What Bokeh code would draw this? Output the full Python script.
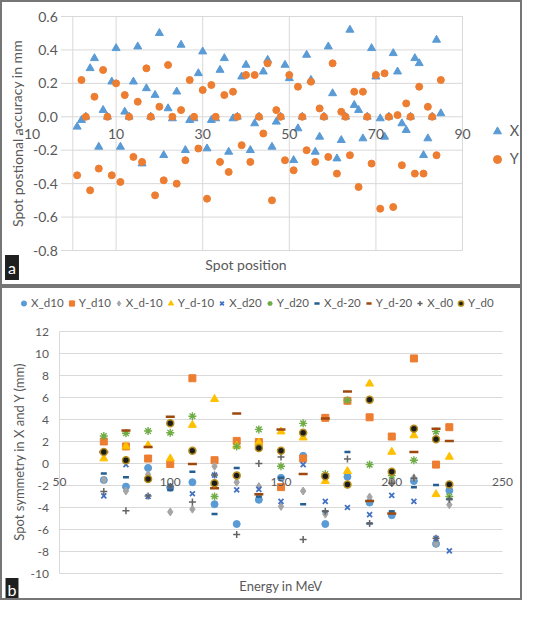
from bokeh.plotting import figure
from bokeh.models import (ColumnDataSource, LabelSet, Label, Legend, LegendItem,
                          Range1d)
from bokeh.core.properties import value
from bokeh.layouts import column
from bokeh.embed import file_html
from bokeh.resources import INLINE

# ---------------- Panel a data ----------------
spot = list(range(1, 86))
accuracy_x = [-0.06, -0.02, 0.00, 0.29, 0.35, -0.18, 0.04, 0.00, 0.21, 0.41,
              -0.18, 0.03, 0.00, 0.21, 0.42, -0.28, 0.17, 0.00, 0.13, 0.50,
              -0.23, 0.05, -0.01, 0.15, 0.43, -0.20, -0.02, -0.01, 0.26, 0.39,
              -0.19, -0.02, -0.01, 0.28, 0.35, -0.21, -0.01, 0.00, 0.24, 0.31,
              -0.20, -0.04, 0.00, 0.27, 0.34, -0.18, -0.03, 0.00, 0.31, 0.23,
              -0.26, -0.07, 0.00, 0.37, 0.22, -0.21, -0.12, 0.00, 0.42, 0.14,
              -0.25, -0.14, 0.00, 0.52, 0.07, 0.04, -0.13, 0.00, 0.41, 0.24,
              -0.01, -0.12, 0.00, 0.38, 0.27, -0.04, -0.08, 0.00, 0.35, 0.32,
              -0.23, -0.13, 0.00, 0.46, 0.02]
accuracy_y = [-0.35, 0.22, 0.00, -0.44, 0.12, -0.31, 0.28, 0.00, -0.35, 0.20,
              -0.39, 0.13, 0.00, -0.24, 0.09, -0.27, 0.29, 0.00, -0.47, 0.06,
              -0.38, 0.31, 0.00, -0.40, 0.04, -0.26, 0.22, 0.00, -0.19, 0.16,
              -0.49, 0.19, 0.00, -0.27, 0.13, -0.33, 0.15, 0.00, -0.17, 0.25,
              -0.27, 0.25, 0.00, -0.10, 0.32, -0.50, 0.04, 0.00, -0.26, 0.25,
              -0.32, 0.18, 0.00, -0.20, 0.21, -0.27, 0.05, 0.00, -0.24, 0.32,
              -0.34, 0.03, 0.00, -0.23, 0.15, -0.42, 0.15, 0.00, -0.28, 0.25,
              -0.55, 0.26, 0.00, -0.54, 0.01, -0.29, 0.08, 0.00, -0.34, 0.18,
              -0.34, 0.06, 0.00, -0.23, 0.22]
a_x_ticks = [-10, 10, 30, 50, 70, 90]
a_x_grid = [0, 10, 30, 50, 70, 90]
a_y_ticks = [-0.8, -0.6, -0.4, -0.2, 0.0, 0.2, 0.4, 0.6]

# ---------------- Panel b data ----------------
energy = [70, 80, 90, 100, 110, 120, 130, 140, 150, 160, 170, 180, 190, 200, 210, 220, 226]
x_d10 = [-1.5, -2.1, -0.4, -2.2, -1.7, -3.7, -5.5, -3.3, -1.3, 0.7, -5.5, -1.2, -3.55, -4.7, -1.6, -7.3, -2.45]
y_d10 = [2.0, 1.55, 0.45, -0.05, 7.75, 0.3, 2.05, 1.95, -2.15, 0.45, 4.15, 5.7, 4.2, 2.45, 9.55, -0.1, 3.3]
x_dm10 = [-1.5, -2.5, -1.0, -4.4, -4.15, -0.25, -1.7, -2.1, -3.9, -2.5, -4.6, -1.9, -3.05, -1.75, -1.3, -7.3, -3.75]
y_dm10 = [0.45, 1.55, 1.65, 0.45, 3.5, 5.85, 1.6, 1.9, 2.9, 2.35, -1.6, -0.7, 7.25, 1.05, 2.55, -2.8, 0.6]
x_d20 = [-2.95, -0.1, -3.0, -2.05, -2.75, -1.05, -2.4, -2.35, -3.45, -0.1, -3.45, -4.0, -4.65, -2.9, -3.45, -6.8, -7.95]
y_d20 = [2.5, 2.75, 2.95, 2.8, 4.3, -3.0, 1.55, 3.1, -0.25, 3.65, -0.95, 5.75, -0.1, -1.1, 0.3, 2.9, -3.0]
x_dm20 = [-0.9, -1.25, -1.4, -2.4, -0.75, -4.6, -0.4, -3.0, -1.3, -3.7, -4.35, 1.05, -5.45, -4.35, -2.15, -1.95, -3.25]
y_dm20 = [1.05, 3.0, 1.5, 4.25, -0.05, -2.25, 4.55, -2.8, 3.1, -0.95, 4.1, 6.55, -3.4, -4.55, 1.05, 3.15, 2.05]
x_d0 = [-2.55, -4.3, -2.95, -2.1, -3.5, -1.05, -6.45, 0.0, 0.6, -6.9, -4.35, 0.4, -5.45, -1.8, -1.35, -6.8, -3.25]
y_d0 = [1.05, 0.3, -1.4, 3.65, 1.15, -1.8, -1.1, 1.4, 1.15, 2.8, -1.15, -1.9, 5.8, -0.75, 3.15, 2.2, -1.9]
b_x_ticks = [50, 100, 150, 200, 250]
b_y_ticks = [-10, -8, -6, -4, -2, 0, 2, 4, 6, 8, 10, 12]

FONT = "Lato"
TXT = "#595959"
GRIDC = "#D9D9D9"
BORDER = {"border": "2px solid #767676"}

# =============== Panel a ===============
A_W, A_H = 522, 286
AX0, AX1, AY0, AY1 = 27.0, 460.0, 14.0, 248.0      # pixel box of the data area
a_xmin, a_xmax, a_ymin, a_ymax = -10, 90, -0.8, 0.6
a_sx = (AX1 - AX0) / (a_xmax - a_xmin)
a_sy = (AY1 - AY0) / (a_ymax - a_ymin)


def ax(px):
    return a_xmin + (px - AX0) / a_sx


def ay(py):
    return a_ymax - (py - AY0) / a_sy


pa = figure(width=A_W, height=A_H,
            x_range=Range1d(ax(0), ax(A_W)), y_range=Range1d(ay(A_H), ay(0)),
            x_axis_location=None, y_axis_location=None,
            output_backend="svg", toolbar_location=None,
            min_border=0, min_border_left=0, min_border_right=0,
            min_border_top=0, min_border_bottom=0)
pa.outline_line_color = None
pa.grid.visible = False
pa.styles = BORDER

grid_x0 = ax(58.5)
pa.segment(x0=[grid_x0] * len(a_y_ticks), x1=[a_xmax] * len(a_y_ticks), y0=a_y_ticks, y1=a_y_ticks,
           line_color=GRIDC, line_width=1)
pa.segment(x0=a_x_grid, x1=a_x_grid, y0=[a_ymin] * len(a_x_grid), y1=[a_ymax] * len(a_x_grid),
           line_color=GRIDC, line_width=1)

rx = pa.scatter(spot, accuracy_x, marker="triangle", size=8, fill_color="#5B9BD5", line_color="#5B9BD5")
ry = pa.scatter(spot, accuracy_y, marker="circle", size=7, fill_color="#ED7D31", line_color="#ED7D31")

ysrc_a = ColumnDataSource(dict(x=[ax(55.3)] * len(a_y_ticks), y=a_y_ticks,
                               t=[f"{v:.1f}" for v in a_y_ticks]))
pa.add_layout(LabelSet(x="x", y="y", text="t", source=ysrc_a,
                       text_align="right", text_baseline="middle",
                       text_font=value(FONT), text_font_size="14px", text_color=TXT))
xsrc_a = ColumnDataSource(dict(x=a_x_ticks, y=[-17 / a_sy] * len(a_x_ticks),
                               t=[str(v) for v in a_x_ticks]))
pa.add_layout(LabelSet(x="x", y="y", text="t", source=xsrc_a,
                       text_align="center", text_baseline="middle",
                       text_font=value(FONT), text_font_size="14px", text_color=TXT))

pa.add_layout(Label(x=ax(14.5), y=ay(131), text="Spot postional accuracy in mm", angle=1.5708,
                    text_align="center", text_baseline="middle",
                    text_font=FONT, text_font_size="14px", text_color=TXT))
pa.add_layout(Label(x=ax(243.5), y=ay(262), text="Spot position",
                    text_align="center", text_baseline="middle",
                    text_font=FONT, text_font_size="14px", text_color=TXT))
pa.add_layout(Label(x=ax(9.5), y=ay(265), text="a", text_align="center", text_baseline="middle",
                    text_font=FONT, text_font_size="16px", text_color="white",
                    background_fill_color="#1f1f1f", padding=3))

leg_a = Legend(items=[LegendItem(label="X", renderers=[rx]), LegendItem(label="Y", renderers=[ry])],
               location=(484.7, A_H - 166.6), glyph_width=20, glyph_height=20, label_height=20,
               label_standoff=3, spacing=8, padding=0, margin=0,
               border_line_color=None, background_fill_alpha=0,
               label_text_font=FONT, label_text_font_size="14.5px", label_text_color=TXT)
pa.add_layout(leg_a)

# =============== Panel b ===============
B_W, B_H = 522, 314
BX0, BX1, BY0, BY1 = 57.0, 500.0, 43.0, 285.0
b_xmin, b_xmax, b_ymin, b_ymax = 50, 250, -10, 12
b_sx = (BX1 - BX0) / (b_xmax - b_xmin)
b_sy = (BY1 - BY0) / (b_ymax - b_ymin)


def bx(px):
    return b_xmin + (px - BX0) / b_sx


def by(py):
    return b_ymax - (py - BY0) / b_sy


pb = figure(width=B_W, height=B_H,
            x_range=Range1d(bx(0), bx(B_W)), y_range=Range1d(by(B_H), by(0)),
            x_axis_location=None, y_axis_location=None,
            output_backend="svg", toolbar_location=None,
            min_border=0, min_border_left=0, min_border_right=0,
            min_border_top=0, min_border_bottom=0)
pb.outline_line_color = None
pb.grid.visible = False
pb.styles = BORDER

pb.segment(x0=[b_xmin] * len(b_y_ticks), x1=[b_xmax] * len(b_y_ticks), y0=b_y_ticks, y1=b_y_ticks,
           line_color=GRIDC, line_width=1)
pb.segment(x0=[b_xmin], x1=[b_xmin], y0=[b_ymin], y1=[b_ymax], line_color=GRIDC, line_width=1)

r1 = pb.scatter(energy, x_d10, marker="circle", size=7, fill_color="#5B9BD5", line_color="#5B9BD5")
r2 = pb.scatter(energy, y_d10, marker="square", size=7, fill_color="#ED7D31", line_color="#ED7D31")
r3 = pb.scatter(energy, x_dm10, marker="diamond", size=8, fill_color="#A5A5A5", line_color="#A5A5A5")
r4 = pb.scatter(energy, y_dm10, marker="triangle", size=8, fill_color="#FFC000", line_color="#FFC000")
r5 = pb.scatter(energy, x_d20, marker="x", size=7, line_color="#4472C4", line_width=1.8)
r6 = pb.scatter(energy, y_d20, marker="asterisk", size=8, line_color="#70AD47", line_width=1.4)
r7 = pb.scatter(energy, x_dm20, marker="dash", size=6, line_color="#255E91", line_width=2.5)
r8 = pb.scatter(energy, y_dm20, marker="dash", size=9, line_color="#9E480E", line_width=2.5)
r9 = pb.scatter(energy, x_d0, marker="cross", size=7, line_color="#636363", line_width=1.5)
r10 = pb.scatter(energy, y_d0, marker="circle", size=7, fill_color="#1c1c1c", line_color="#B58E1E", line_width=1.5)

ysrc_b = ColumnDataSource(dict(x=[bx(46.5)] * len(b_y_ticks), y=b_y_ticks, t=[str(v) for v in b_y_ticks]))
pb.add_layout(LabelSet(x="x", y="y", text="t", source=ysrc_b,
                       text_align="right", text_baseline="middle",
                       text_font=value(FONT), text_font_size="12px", text_color=TXT))
xsrc_b = ColumnDataSource(dict(x=b_x_ticks, y=[-18 / b_sy] * len(b_x_ticks), t=[str(v) for v in b_x_ticks]))
pb.add_layout(LabelSet(x="x", y="y", text="t", source=xsrc_b,
                       text_align="center", text_baseline="middle",
                       text_font=value(FONT), text_font_size="12px", text_color=TXT))
pb.add_layout(Label(x=bx(16.5), y=by(163), text="Spot symmetry in X and Y (mm)", angle=1.5708,
                    text_align="center", text_baseline="middle",
                    text_font=FONT, text_font_size="13px", text_color=TXT))
pb.add_layout(Label(x=bx(278.4), y=by(297.5), text="Energy in MeV",
                    text_align="center", text_baseline="middle",
                    text_font=FONT, text_font_size="13px", text_color=TXT))
pb.add_layout(Label(x=bx(9.5), y=by(301), text="b", text_align="center", text_baseline="middle",
                    text_font=FONT, text_font_size="16px", text_color="white",
                    background_fill_color="#1f1f1f", padding=2))

names = ["X_d10", "Y_d10", "X_d-10", "Y_d-10", "X_d20", "Y_d20", "X_d-20", "Y_d-20", "X_d0", "Y_d0"]
rends = [r1, r2, r3, r4, r5, r6, r7, r8, r9, r10]
leg_b = Legend(items=[LegendItem(label=n, renderers=[r]) for n, r in zip(names, rends)],
               orientation="horizontal", location=(15.1, B_H - 22.5),
               glyph_width=13, glyph_height=16, label_height=16, label_standoff=1, spacing=1,
               padding=0, margin=0, border_line_color=None, background_fill_alpha=0,
               label_text_font=FONT, label_text_font_size="11.5px", label_text_color=TXT)
pb.add_layout(leg_b)

layout = column(pa, pb, spacing=0)
open("out.html", "w").write(file_html(layout, INLINE))
